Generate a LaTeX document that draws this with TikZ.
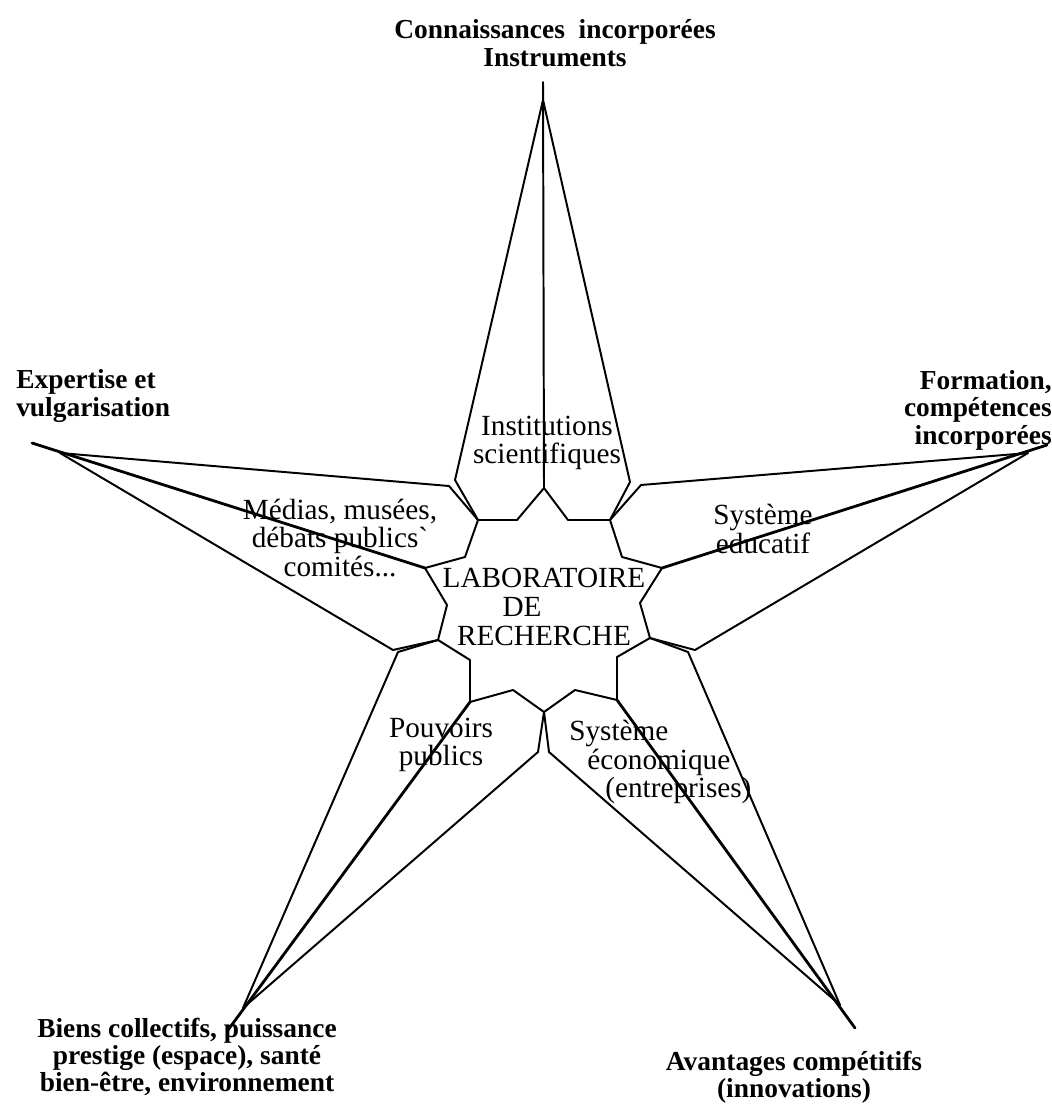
\documentclass[tikz,border=0pt]{standalone}
\usepackage{fontspec}
\setmainfont{Liberation Serif}
\begin{document}
\begin{tikzpicture}[x=0.025cm,y=-0.025cm,
  edge/.style={line width=1.4pt,line join=round,line cap=round},
  spine/.style={line width=2pt,line cap=round},
  outerlbl/.style={font=\fontsize{19.5}{19.5}\selectfont\bfseries,inner sep=0pt},
  innerlbl/.style={font=\fontsize{20.8}{20.5}\selectfont,inner sep=0pt}]
\useasboundingbox (0,0) rectangle (1051,1115);
% tips: convergence points and tail ends
\coordinate (Pt) at (543,100);  \coordinate (Tt) at (543,82);
\coordinate (Pr) at (1028,453); \coordinate (Tr) at (1047,445);
\coordinate (Pbr) at (840,1005); \coordinate (Tbr) at (855,1028);
\coordinate (Pbl) at (243,1008); \coordinate (Tbl) at (228,1030);
\coordinate (Pl) at (60,453);   \coordinate (Tl) at (32,443);
% inner polygon vertices
\coordinate (Ct) at (544,488);
\coordinate (a1) at (568,520);
\coordinate (Jtr) at (610,520);
\coordinate (a2) at (622,557);
\coordinate (Cr) at (662,568);
\coordinate (a3) at (640,603);
\coordinate (Jrb) at (650,638);
\coordinate (a4) at (617,657);
\coordinate (Cbr) at (617,700);
\coordinate (a5) at (575,690);
\coordinate (Jb) at (544,712);
\coordinate (a6) at (513,690);
\coordinate (Cbl) at (470,702);
\coordinate (a7) at (470,660);
\coordinate (Jbl) at (438,640);
\coordinate (a8) at (447,605);
\coordinate (Cl) at (425,568);
\coordinate (a9) at (465,557);
\coordinate (Jlt) at (478,520);
\coordinate (a10) at (517,520);
% kinks
\coordinate (kt1) at (455,480); \coordinate (kt2) at (630,482);
\coordinate (kl1) at (449,486); \coordinate (kl2) at (393,650);
\coordinate (kr1) at (641,485); \coordinate (kr2) at (695,650);
\coordinate (kbr1) at (688,652); \coordinate (kbr2) at (549,752);
\coordinate (kbl1) at (398,652); \coordinate (kbl2) at (538,752);
% central polygon
\draw[edge] (Ct) -- (a1) -- (Jtr) -- (a2) -- (Cr) -- (a3) -- (Jrb) -- (a4) -- (Cbr) -- (a5) -- (Jb) -- (a6) -- (Cbl) -- (a7) -- (Jbl) -- (a8) -- (Cl) -- (a9) -- (Jlt) -- (a10) -- cycle;
% arm boundaries
\draw[edge] (Jlt) -- (kt1) -- (Pt) -- (kt2) -- (Jtr);
\draw[edge] (Jtr) -- (kr1) -- (Pr) -- (kr2) -- (Jrb);
\draw[edge] (Jrb) -- (kbr1) -- (Pbr) -- (kbr2) -- (Jb);
\draw[edge] (Jb) -- (kbl2) -- (Pbl) -- (kbl1) -- (Jbl);
\draw[edge] (Jbl) -- (kl2) -- (Pl) -- (kl1) -- (Jlt);
% spines
\draw[edge] (Tt) -- (Ct);
\draw[spine] (Tr) -- (Cr);
\draw[spine] (Tbr) -- (Cbr);
\draw[spine] (Tbl) -- (Cbl);
\draw[spine] (Tl) -- (Cl);
% outer labels
\node[outerlbl,align=center] (ntop) at (555,43) {Connaissances\ \ incorporées\\Instruments};
\node[outerlbl,align=left,anchor=west] (nleft) at (16,396) {Expertise et\\vulgarisation};
\node[outerlbl,align=right,anchor=east] (nright) at (1052,410) {Formation,\\compétences\\incorporées};
\node[outerlbl,align=center] (nbl) at (187,1057) {Biens collectifs, puissance\\prestige (espace), santé\\bien-être, environnement};
\node[outerlbl,align=center] (nbr) at (794,1077) {Avantages compétitifs\\(innovations)};
% inner labels
\node[innerlbl,align=center] (ninst) at (547,443) {Institutions\\scientifiques};
\node[innerlbl,align=center] (nmed) at (340,538) {Médias, musées,\\débats publics\textasciigrave\\comités...};
\node[innerlbl,align=center] (nedu) at (763,529) {Système\\educatif};
\node[innerlbl,align=center] (npouv) at (441,745) {Pouvoirs\\publics};
\node[innerlbl,align=left,anchor=west] (neco) at (569,762) {Système\\\hspace*{0.45cm}économique\\\hspace*{0.9cm}(entreprises)};
\node[innerlbl,align=center] (nlab) at (544,607) {LABORATOIRE\\DE\kern1.1cm\\RECHERCHE};
\end{tikzpicture}
\end{document}
